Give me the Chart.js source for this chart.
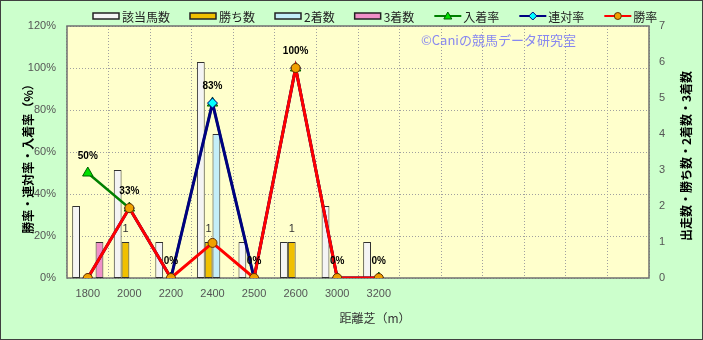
<!DOCTYPE html>
<html>
<head>
<meta charset="utf-8">
<script src="https://cdn.jsdelivr.net/npm/chart.js@4.4.1/dist/chart.umd.min.js"></script>
<style>
  html, body { margin: 0; padding: 0; background: #ccffcc; }
  canvas { display: block; }
</style>
</head>
<body>
<canvas id="raceChart" width="703" height="340"></canvas>
<script>
// distance categories (the blank ones keep the empty right part of the plot)
const distances = ['1800', '2000', '2200', '2400', '2500', '2600', '3000', '3200', '', '', '', '', '', ''];

// counts (right axis)
const runners = [2, 3, 1, 6, 1, 1, 2, 1];
const wins    = [0, 1, 0, 1, 0, 1, 0, 0];
const seconds = [0, 0, 0, 4, 0, 0, 0, 0];
const thirds  = [1, 0, 0, 0, 0, 0, 0, 0];

// rates in % (left axis)
const placeRate  = [50, 33.3, 0, 83.3, 0, 100, 0, 0];
const rentaiRate = [0, 33.3, 0, 83.3, 0, 100, 0, 0];
const winRate    = [0, 33.3, 0, 16.7, 0, 100, 0, 0];

const rateTicks = { min: 0, max: 120, step: 20 };
const countTicks = { min: 0, max: 7, step: 1 };

const jpFont = '"Noto Sans CJK JP", "Noto Sans", sans-serif';
const numFont = '"Liberation Sans", Arial, sans-serif';

function hideZero(arr) {
    return arr.map(v => v || null);
}

const legendItems = [
    { text: '該当馬数', kind: 'bar', fill: '#f4f4f4' },
    { text: '勝ち数', kind: 'bar', fill: '#f0c000' },
    { text: '2着数', kind: 'bar', fill: '#c4eef8' },
    { text: '3着数', kind: 'bar', fill: '#f090c8' },
    { text: '入着率', kind: 'line', line: '#008000', marker: 'triangle', fill: '#00e000', edge: '#006000' },
    { text: '連対率', kind: 'line', line: '#000080', marker: 'diamond', fill: '#00ffff', edge: '#000080' },
    { text: '勝率', kind: 'line', line: '#ff0000', marker: 'circle', fill: '#f0a000', edge: '#603000' }
];

function drawMarker(ctx, kind, x, y, fill, edge) {
    ctx.fillStyle = fill;
    ctx.strokeStyle = edge;
    ctx.lineWidth = 1;
    ctx.beginPath();
    if (kind === 'triangle') {
        ctx.moveTo(x, y - 4); ctx.lineTo(x + 4, y + 3); ctx.lineTo(x - 4, y + 3);
    } else if (kind === 'diamond') {
        ctx.moveTo(x, y - 4); ctx.lineTo(x + 4, y); ctx.lineTo(x, y + 4); ctx.lineTo(x - 4, y);
    } else {
        ctx.arc(x, y, 3.5, 0, Math.PI * 2);
    }
    ctx.closePath();
    ctx.fill();
    ctx.stroke();
}

const chartDeco = {
    id: 'chartDeco',
    beforeDraw(chart) {
        const { ctx, chartArea: a, width, height } = chart;
        ctx.save();
        ctx.fillStyle = '#ccffcc';
        ctx.fillRect(0, 0, width, height);
        ctx.fillStyle = '#ffffcc';
        ctx.fillRect(a.left, a.top, a.right - a.left, a.bottom - a.top);
        ctx.strokeStyle = '#404040';
        ctx.lineWidth = 1;
        ctx.strokeRect(0.5, 0.5, width - 1, height - 1);
        ctx.restore();
    },
    beforeDatasetsDraw(chart) {
        const { ctx, chartArea: a } = chart;
        ctx.save();
        ctx.strokeStyle = '#707070';
        ctx.lineWidth = 1.5;
        ctx.strokeRect(a.left, a.top, a.right - a.left, a.bottom - a.top);
        // watermark
        ctx.fillStyle = '#8888f0';
        ctx.font = '13px ' + jpFont;
        ctx.textAlign = 'left';
        ctx.textBaseline = 'middle';
        ctx.fillText('©Caniの競馬データ研究室', 421, 40);
        ctx.restore();
    },
    afterDatasetsDraw(chart) {
        const ctx = chart.ctx;
        ctx.save();
        ctx.textAlign = 'center';
        ctx.textBaseline = 'middle';
        // rate labels above the place-rate points
        const placeMeta = chart.getDatasetMeta(4);
        ctx.font = 'bold 10px ' + numFont;
        ctx.fillStyle = '#000';
        placeMeta.data.forEach((pt, i) => {
            const v = placeRate[i];
            if (v === undefined || v === null) return;
            ctx.fillText(Math.round(v) + '%', pt.x, pt.y - 17);
        });
        // win counts above the win bars
        const winMeta = chart.getDatasetMeta(1);
        ctx.font = '11px ' + numFont;
        ctx.fillStyle = '#333';
        winMeta.data.forEach((bar, i) => {
            if (!wins[i]) return;
            ctx.fillText(String(wins[i]), bar.x, bar.y - 13);
        });
        ctx.restore();
    },
    afterDraw(chart) {
        const ctx = chart.ctx;
        ctx.save();
        // legend
        ctx.font = '12px ' + jpFont;
        ctx.textBaseline = 'middle';
        ctx.textAlign = 'left';
        let x = 93;
        const y = 16;
        legendItems.forEach(item => {
            if (item.kind === 'bar') {
                ctx.fillStyle = item.fill;
                ctx.fillRect(x, y - 3, 26, 6);
                ctx.strokeStyle = '#222';
                ctx.lineWidth = 1.5;
                ctx.strokeRect(x, y - 3, 26, 6);
            } else {
                ctx.strokeStyle = item.line;
                ctx.lineWidth = 2;
                ctx.beginPath();
                ctx.moveTo(x, y); ctx.lineTo(x + 27, y);
                ctx.stroke();
                drawMarker(ctx, item.marker, x + 13.5, y, item.fill, item.edge);
            }
            ctx.fillStyle = '#222';
            ctx.fillText(item.text, x + 29, y + 1);
            x += 29 + ctx.measureText(item.text).width + 20;
        });
        // axis titles
        ctx.textAlign = 'center';
        ctx.fillStyle = '#000';
        ctx.font = 'bold 12px ' + jpFont;
        ctx.save();
        ctx.translate(28, 156);
        ctx.rotate(-Math.PI / 2);
        ctx.fillText('勝率・連対率・入着率（%）', 0, 0);
        ctx.restore();
        ctx.save();
        ctx.translate(686, 156);
        ctx.rotate(-Math.PI / 2);
        ctx.fillText('出走数・勝ち数・2着数・3着数', 0, 0);
        ctx.restore();
        ctx.font = '12px ' + jpFont;
        ctx.fillStyle = '#333';
        ctx.fillText('距離芝（m）', 375, 318);
        ctx.restore();
    }
};

const barBase = {
    type: 'bar',
    yAxisID: 'y1',
    borderColor: '#303030',
    borderWidth: 1,
    borderSkipped: false,
    categoryPercentage: 0.75,
    barPercentage: 1.0,
    order: 10
};

const ctx = document.getElementById('raceChart').getContext('2d');
new Chart(ctx, {
    type: 'bar',
    data: {
        labels: distances,
        datasets: [
            { ...barBase, label: '該当馬数', data: hideZero(runners), backgroundColor: '#f4f4f4' },
            { ...barBase, label: '勝ち数', data: hideZero(wins), backgroundColor: '#f0c000' },
            { ...barBase, label: '2着数', data: hideZero(seconds), backgroundColor: '#c4eef8' },
            { ...barBase, label: '3着数', data: hideZero(thirds), backgroundColor: '#f090c8' },
            {
                type: 'line', label: '入着率', data: placeRate, yAxisID: 'y',
                borderColor: '#008000', borderWidth: 2.5, tension: 0,
                pointStyle: 'triangle', pointRadius: 6,
                pointBackgroundColor: '#00e000', pointBorderColor: '#006000', pointBorderWidth: 1,
                order: 3
            },
            {
                type: 'line', label: '連対率', data: rentaiRate, yAxisID: 'y',
                borderColor: '#000080', borderWidth: 3, tension: 0,
                pointStyle: 'rectRot', pointRadius: 5,
                pointBackgroundColor: '#00ffff', pointBorderColor: '#000080', pointBorderWidth: 1,
                order: 2
            },
            {
                type: 'line', label: '勝率', data: winRate, yAxisID: 'y',
                borderColor: '#ff0000', borderWidth: 3, tension: 0,
                pointStyle: 'circle', pointRadius: 4.5,
                pointBackgroundColor: '#f0a000', pointBorderColor: '#603000', pointBorderWidth: 1,
                order: 1
            }
        ]
    },
    options: {
        responsive: false,
        animation: false,
        devicePixelRatio: 1,
        layout: { padding: { top: 26, left: 0, right: 0, bottom: 0 } },
        plugins: {
            legend: { display: false },
            tooltip: { enabled: false }
        },
        scales: {
            x: {
                offset: true,
                grid: { offset: true, color: '#a0a0a0', drawTicks: false },
                border: { display: false, dash: [1, 2] },
                ticks: { padding: 9, color: '#555', font: { family: numFont, size: 11 } },
                afterFit: s => { s.height = 62; }
            },
            y: {
                position: 'left',
                min: rateTicks.min, max: rateTicks.max,
                grid: { color: '#a0a0a0', drawTicks: false },
                border: { display: false, dash: [1, 2] },
                ticks: {
                    stepSize: rateTicks.step, padding: 11, color: '#555',
                    font: { family: numFont, size: 11 },
                    callback: v => v + '%'
                },
                afterFit: s => { s.width = 67; }
            },
            y1: {
                position: 'right',
                min: countTicks.min, max: countTicks.max,
                grid: { display: false, drawTicks: false },
                border: { display: false },
                ticks: {
                    stepSize: countTicks.step, padding: 10, color: '#555',
                    font: { family: numFont, size: 11 }
                },
                afterFit: s => { s.width = 54; }
            }
        }
    },
    plugins: [chartDeco]
});
</script>
</body>
</html>
